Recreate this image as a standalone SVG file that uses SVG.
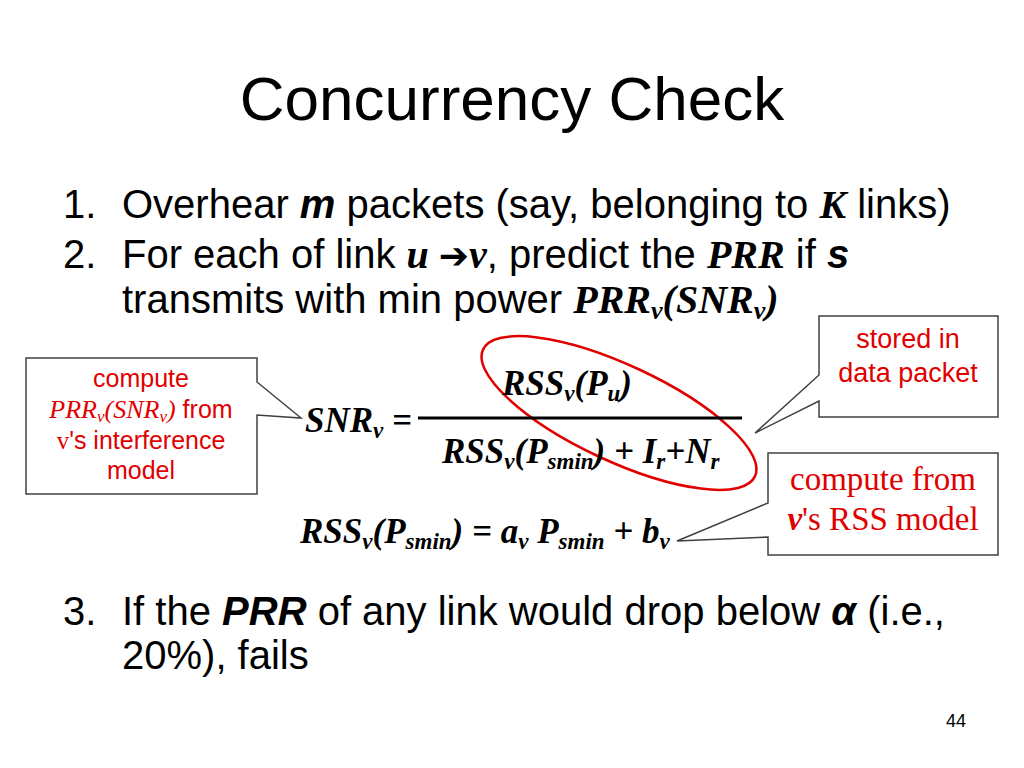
<svg xmlns="http://www.w3.org/2000/svg" width="1024" height="768" viewBox="0 0 1024 768">
<style>
.sans{font-family:"Liberation Sans",Arial,sans-serif;fill:#000}
.bi{font-family:"Liberation Serif","Times New Roman",serif;font-weight:bold;font-style:italic}
.sbi{font-family:"Liberation Sans",Arial,sans-serif;font-weight:bold;font-style:italic}
.red{fill:#e00000}
.box{fill:#fff;stroke:#404040;stroke-width:1.5}
.eq{font-family:"Liberation Serif","Times New Roman",serif;font-weight:bold;font-style:italic;font-size:35px;fill:#000}
</style>
<rect width="1024" height="768" fill="#fff"/>
<text class="sans" x="512" y="120" font-size="62" text-anchor="middle">Concurrency Check</text>
<g id="bullets" class="sans" font-size="40">
<text x="63" y="218">1.</text>
<text x="122" y="218">Overhear <tspan class="sbi">m</tspan> packets (say, belonging to <tspan class="bi">K</tspan> links)</text>
<text x="63" y="268">2.</text>
<text x="122" y="268">For each of link <tspan class="bi">u </tspan><tspan font-family="DejaVu Sans,sans-serif" font-weight="bold" font-size="36">➔</tspan><tspan class="bi">v</tspan>, predict the <tspan class="bi">PRR</tspan> if <tspan class="sbi">s</tspan></text>
<text x="122" y="313">transmits with min power <tspan class="bi">PRR<tspan font-size="26" dy="6">v</tspan><tspan dy="-6">(SNR</tspan><tspan font-size="26" dy="6">v</tspan><tspan dy="-6">)</tspan></tspan></text>
<text x="63" y="625">3.</text>
<text x="122" y="625">If the <tspan class="sbi">PRR</tspan> of any link would drop below <tspan class="sbi">α</tspan> (i.e.,</text>
<text x="122" y="669">20%), fails</text>
</g>
<g id="connectors" fill="none" stroke="#000" stroke-width="1.2">
<ellipse cx="619" cy="413" rx="150" ry="48" transform="rotate(25 619 413)" stroke="#e00000" stroke-width="2.5"/>
</g>
<g id="formula">
<text class="eq" x="305" y="432">SNR<tspan font-size="23" dy="6">v</tspan><tspan dy="-6"> =</tspan></text>
<line x1="418" y1="418" x2="742" y2="418" stroke="#000" stroke-width="3"/>
<text class="eq" x="502" y="395">RSS<tspan font-size="23" dy="6">v</tspan><tspan dy="-6">(P</tspan><tspan font-size="23" dy="6">u</tspan><tspan dy="-6">)</tspan></text>
<text class="eq" x="442" y="463">RSS<tspan font-size="23" dy="6">v</tspan><tspan dy="-6">(P</tspan><tspan font-size="23" dy="6">smin</tspan><tspan dy="-6">) +  I</tspan><tspan font-size="23" dy="6">r</tspan><tspan dy="-6">+N</tspan><tspan font-size="23" dy="6">r</tspan></text>
<text class="eq" x="300" y="543">RSS<tspan font-size="23" dy="6">v</tspan><tspan dy="-6">(P</tspan><tspan font-size="23" dy="6">smin</tspan><tspan dy="-6">) = a</tspan><tspan font-size="23" dy="6">v</tspan><tspan dy="-6"> P</tspan><tspan font-size="23" dy="6">smin</tspan><tspan dy="-6"> + b</tspan><tspan font-size="23" dy="6">v</tspan></text>
</g>
<g id="callout-left">
<path class="box" d="M26,358 H257 V382 L301,418 L257,415 V494 H26 Z"/>
<g class="sans red" font-size="25" text-anchor="middle">
<text class="red" x="141" y="387">compute</text>
<text class="red" x="141" y="418"><tspan font-family="Liberation Serif,serif" font-style="italic" font-size="26">PRR<tspan font-size="17" dy="4">v</tspan><tspan dy="-4">(SNR</tspan><tspan font-size="17" dy="4">v</tspan><tspan dy="-4">)</tspan></tspan> from</text>
<text class="red" x="141" y="449"><tspan font-family="Liberation Serif,serif">v</tspan>'s interference</text>
<text class="red" x="141" y="479">model</text>
</g>
</g>
<g id="callout-stored">
<path class="box" d="M819,316 H998 V417 H819 V401 L755,433 L819,375 Z"/>
<g class="sans red" font-size="27" text-anchor="middle">
<text class="red" x="908" y="348">stored in</text>
<text class="red" x="908" y="382">data packet</text>
</g>
</g>
<g id="callout-rss">
<path class="box" d="M768,453 H998 V555 H768 V537 L677,541 L768,503 Z"/>
<g font-family="Liberation Serif,serif" font-size="33" text-anchor="middle">
<text class="red" x="883" y="490">compute from</text>
<text class="red" x="883" y="530"><tspan font-weight="bold" font-style="italic">v</tspan>'s RSS model</text>
</g>
</g>
<text class="sans" x="956" y="727" font-size="18" text-anchor="middle">44</text>
</svg>
